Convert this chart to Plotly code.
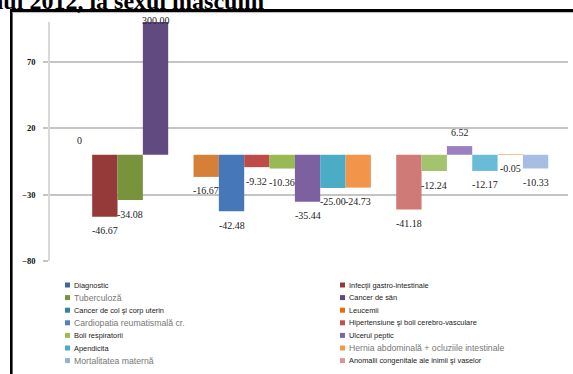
import plotly.graph_objects as go

# ---------------- data ----------------
series_names = [
    "Diagnostic", "Infecţii gastro-intestinale", "Tuberculoză", "Cancer de sân",
    "Cancer de col şi corp uterin", "Leucemii", "Cardiopatia reumatismală cr.",
    "Hipertensiune şi boli cerebro-vasculare", "Boli respiratorii", "Ulcerul peptic",
    "Apendicita", "Hernia abdominală + ocluziile intestinale", "Mortalitatea maternă",
    "Anomalii congenitale ale inimii şi vaselor",
    None, None, None, None, None,
]
values = [0, -46.67, -34.08, 300.00, None, -16.67, -42.48, -9.32, -10.36, -35.44,
          -25.00, -24.73, None, -41.18, -12.24, 6.52, -12.17, -0.05, -10.33]
bar_colors = ["#4A6FB0", "#953A38", "#77933C", "#604A80", "#31859C", "#D67F38",
              "#4677B8", "#BE4B48", "#98B954", "#7D60A0", "#4BACC6", "#F2954A",
              "#95B3D7", "#D07A78", "#A3C46C", "#9A80C0", "#68BCD6", "#FAC090",
              "#A8BDE2"]
legend_colors = ["#3D64A3", "#953735", "#77933C", "#604A7B", "#31859C", "#E46C0A",
                 "#4F81BD", "#C0504D", "#9BBB59", "#8064A2", "#4BACC6", "#F79646",
                 "#95B3D7", "#D99694"]
legend_light = [False, False, True, False, False, False, True, False, False, False,
                False, True, True, False]
y_ticks = [-80, -30, 20, 70]
y_range = [-80, 100]
title_text = "în anul 2012, la sexul masculin"

# ---------------- layout geometry ----------------
W, H = 573, 374
ML, MR, MT, MB = 50, 5, 22, 113
PW, PH = W - ML - MR, H - MT - MB


def px_x(px):
    return (px - ML) / PW


def px_y(py):
    return (H - MB - py) / PH


fig = go.Figure()
for i, (name, v, c) in enumerate(zip(series_names, values, bar_colors)):
    fig.add_trace(go.Bar(
        x=[i], y=[v], width=1.0, name=name or "", marker=dict(color=c, line=dict(width=0)),
        showlegend=False,
    ))

annotations = []
for i, v in enumerate(values):
    if v is None:
        continue
    txt = "0" if v == 0 else f"{v:.2f}"
    if v > y_range[1]:
        y, ysh = y_range[1], 2
    else:
        y, ysh = v, (14 if v >= 0 else -14)
    annotations.append(dict(
        x=i, y=y, xref="x", yref="y", text=txt, showarrow=False,
        yanchor="middle", xanchor="center", yshift=ysh,
        font=dict(family="Liberation Serif", size=10, color="#222222"),
    ))

# manual legend (two columns, seven rows)
shapes = []
named = [n for n in series_names if n]
for k, name in enumerate(named):
    col, row = k % 2, k // 2
    sx = 65 if col == 0 else 340
    cy = 285 + 12.6 * row
    shapes.append(dict(type="rect", xref="paper", yref="paper",
                       x0=px_x(sx), x1=px_x(sx + 5), y0=px_y(cy + 2.5), y1=px_y(cy - 2.5),
                       fillcolor=legend_colors[k], line=dict(width=0)))
    light = legend_light[k]
    annotations.append(dict(
        x=px_x(sx + 7), y=px_y(cy), xref="paper", yref="paper", text=name,
        showarrow=False, xanchor="left", yanchor="middle",
        font=dict(family="Liberation Sans", size=8.7 if light else 7.4,
                  color="#777777" if light else "#1A1A1A"),
    ))

# title (cut off at the top/left as in the source)
annotations.append(dict(
    x=px_x(266), y=px_y(16), xref="paper", yref="paper", text="<b>" + title_text + "</b>",
    showarrow=False, xanchor="right", yanchor="bottom",
    font=dict(family="Liberation Serif", size=24, color="#000000"),
))

# outer frame (left and top border)
shapes.append(dict(type="line", xref="paper", yref="paper",
                   x0=px_x(11.3), x1=px_x(11.3), y0=px_y(380), y1=px_y(9.3),
                   line=dict(color="#000000", width=2.6)))
shapes.append(dict(type="line", xref="paper", yref="paper",
                   x0=px_x(10), x1=px_x(580), y0=px_y(10.5), y1=px_y(10.5),
                   line=dict(color="#000000", width=2.8)))
shapes.append(dict(type="line", xref="paper", yref="paper",
                   x0=px_x(12.6), x1=px_x(580), y0=px_y(12.6), y1=px_y(12.6),
                   line=dict(color="#BBBBBB", width=1)))

fig.update_layout(
    width=W, height=H, margin=dict(l=ML, r=MR, t=MT, b=MB, pad=0),
    paper_bgcolor="white", plot_bgcolor="white", barmode="overlay",
    xaxis=dict(range=[-1.165, 19.28], showticklabels=False, showgrid=False,
               zeroline=False, showline=False, ticks=""),
    yaxis=dict(range=y_range, tickvals=y_ticks, showgrid=True, gridcolor="#C4C4C4",
               gridwidth=1.6, zeroline=False, showline=True, linecolor="#D9D9D9",
               linewidth=1.5, ticks="outside", ticklen=5, tickcolor="#C4C4C4",
               tickwidth=1.6, ticklabelstandoff=6,
               tickfont=dict(family="Liberation Serif", size=8.5, color="#111111",
                             weight="bold")),
    annotations=annotations, shapes=shapes, showlegend=False,
)

fig.write_html("out.html")
